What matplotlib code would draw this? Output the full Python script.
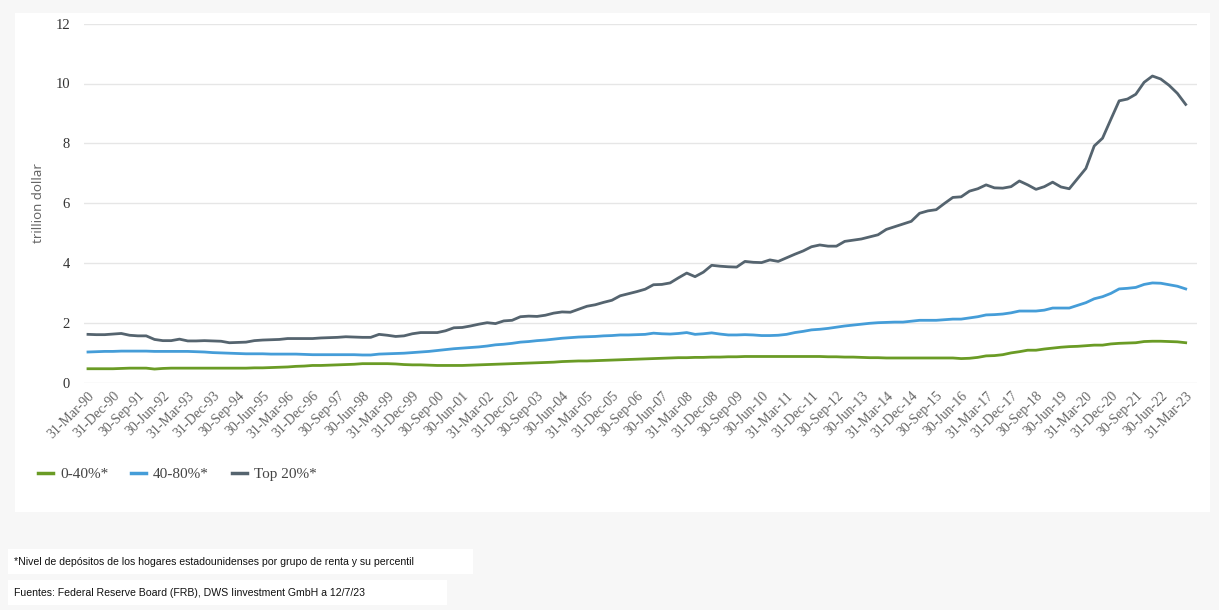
import matplotlib
matplotlib.use("Agg")
import matplotlib.pyplot as plt
from matplotlib.patches import Rectangle
from matplotlib.lines import Line2D

# ---------------- data ----------------
months = ["Mar", "Jun", "Sep", "Dec"]
days = {"Mar": "31", "Jun": "30", "Sep": "30", "Dec": "31"}
dates = []
for year in range(1990, 2024):
    for m in months:
        if year == 2023 and m != "Mar":
            continue
        dates.append(f"{days[m]}-{m}-{str(year)[2:]}")

bottom_40 = [
    0.46, 0.46, 0.46, 0.46, 0.47, 0.48, 0.48, 0.48, 0.45, 0.47,
    0.48, 0.48, 0.48, 0.48, 0.48, 0.48, 0.48, 0.48, 0.48, 0.48,
    0.49, 0.49, 0.50, 0.51, 0.52, 0.54, 0.55, 0.57, 0.57, 0.58,
    0.59, 0.60, 0.61, 0.63, 0.63, 0.63, 0.63, 0.62, 0.60, 0.59,
    0.59, 0.58, 0.57, 0.57, 0.57, 0.57, 0.58, 0.59, 0.60, 0.61,
    0.62, 0.63, 0.64, 0.65, 0.66, 0.67, 0.68, 0.70, 0.71, 0.72,
    0.72, 0.73, 0.74, 0.75, 0.76, 0.77, 0.78, 0.79, 0.80, 0.81,
    0.82, 0.83, 0.83, 0.84, 0.84, 0.85, 0.85, 0.86, 0.86, 0.87,
    0.87, 0.87, 0.87, 0.87, 0.87, 0.87, 0.87, 0.87, 0.87, 0.86,
    0.86, 0.85, 0.85, 0.84, 0.83, 0.83, 0.82, 0.82, 0.82, 0.82,
    0.82, 0.82, 0.82, 0.82, 0.82, 0.80, 0.81, 0.84, 0.89, 0.90,
    0.93, 0.99, 1.03, 1.08, 1.08, 1.12, 1.15, 1.18, 1.20, 1.21,
    1.23, 1.25, 1.25, 1.29, 1.31, 1.32, 1.33, 1.37, 1.38, 1.38,
    1.37, 1.36, 1.33,
]

middle_40 = [
    1.02, 1.03, 1.04, 1.04, 1.05, 1.05, 1.05, 1.05, 1.04, 1.04,
    1.04, 1.04, 1.04, 1.03, 1.02, 1.00, 0.99, 0.98, 0.97, 0.96,
    0.96, 0.96, 0.95, 0.95, 0.95, 0.95, 0.94, 0.93, 0.93, 0.93,
    0.93, 0.93, 0.93, 0.92, 0.92, 0.95, 0.96, 0.97, 0.98, 1.00,
    1.02, 1.04, 1.07, 1.10, 1.13, 1.15, 1.17, 1.19, 1.22, 1.26,
    1.28, 1.31, 1.35, 1.37, 1.40, 1.42, 1.45, 1.48, 1.50, 1.52,
    1.53, 1.54, 1.56, 1.57, 1.59, 1.59, 1.60, 1.61, 1.65, 1.63,
    1.62, 1.64, 1.67, 1.61, 1.63, 1.66, 1.62, 1.59, 1.59, 1.60,
    1.59, 1.57, 1.57, 1.58, 1.61, 1.67, 1.71, 1.76, 1.78, 1.81,
    1.85, 1.89, 1.92, 1.95, 1.98, 2.00, 2.01, 2.02, 2.02, 2.05,
    2.08, 2.08, 2.08, 2.10, 2.12, 2.12, 2.16, 2.20, 2.26, 2.27,
    2.29, 2.33, 2.39, 2.39, 2.39, 2.42, 2.49, 2.49, 2.49, 2.58,
    2.67, 2.80, 2.87, 2.98, 3.13, 3.15, 3.18, 3.28, 3.33, 3.32,
    3.27, 3.22, 3.13,
]

top_20 = [
    1.61, 1.60, 1.60, 1.62, 1.64, 1.58, 1.56, 1.56, 1.44, 1.40,
    1.40, 1.45, 1.39, 1.39, 1.40, 1.39, 1.38, 1.33, 1.34, 1.35,
    1.40, 1.42, 1.43, 1.44, 1.47, 1.47, 1.47, 1.47, 1.49, 1.50,
    1.51, 1.53, 1.52, 1.51, 1.51, 1.61, 1.58, 1.54, 1.56, 1.63,
    1.67, 1.67, 1.67, 1.73, 1.83, 1.84, 1.89, 1.95, 2.00, 1.97,
    2.06, 2.08, 2.20, 2.22, 2.21, 2.25, 2.32, 2.36, 2.35, 2.45,
    2.55, 2.60, 2.68, 2.75, 2.90, 2.97, 3.04, 3.12, 3.27, 3.28,
    3.33, 3.50, 3.66, 3.54, 3.69, 3.92, 3.89, 3.87, 3.86, 4.05,
    4.02, 4.01, 4.10, 4.05, 4.17, 4.29, 4.40, 4.54, 4.60, 4.56,
    4.56, 4.72, 4.76, 4.80, 4.87, 4.94, 5.12, 5.21, 5.30, 5.39,
    5.66, 5.74, 5.78, 5.99, 6.19, 6.21, 6.40, 6.48, 6.61, 6.51,
    6.50, 6.55, 6.74, 6.61, 6.46, 6.55, 6.70, 6.54, 6.48, 6.82,
    7.16, 7.91, 8.17, 8.80, 9.42, 9.48, 9.64, 10.04, 10.25, 10.15,
    9.94, 9.67, 9.30,
]

series_names = ["0-40%*", "40-80%*", "Top 20%*"]
series_colors = ["#6a9b25", "#459dd8", "#55646f"]
y_ticks = [0, 2, 4, 6, 8, 10, 12]
y_label = "trillion dollar"
footnote = "*Nivel de depósitos de los hogares estadounidenses por grupo de renta y su percentil"
source = "Fuentes: Federal Reserve Board (FRB), DWS Iinvestment GmbH a 12/7/23"

# ---------------- figure ----------------
W, H = 1219, 610
fig = plt.figure(figsize=(W / 100, H / 100), dpi=100, facecolor="#f7f7f7")

def px_rect(x0, y0, x1, y1, color="white"):
    r = Rectangle((x0 / W, 1 - y1 / H), (x1 - x0) / W, (y1 - y0) / H,
                  transform=fig.transFigure, facecolor=color, edgecolor="none")
    r.set_zorder(-10)
    fig.patches.append(r)

px_rect(15, 13, 1210, 512)
px_rect(8, 549, 473, 574)
px_rect(8, 580, 447, 605)

ax_left, ax_right = 84, 1197
ax_top, ax_bottom = 23.7, 382.5
ax = fig.add_axes([ax_left / W, 1 - ax_bottom / H, (ax_right - ax_left) / W, (ax_bottom - ax_top) / H])
ax.set_zorder(1)
ax.set_facecolor("white")

x = list(range(len(dates)))
for vals, name, col in zip([bottom_40, middle_40, top_20], series_names, series_colors):
    ax.plot(x, vals, color=col, lw=2.0, label=name, solid_joinstyle="round", zorder=3)

ax.set_xlim(-0.48, len(dates) - 1 + 1.36)
ax.set_ylim(0, 12)
ax.set_yticks(y_ticks)
ax.set_yticklabels([str(t) for t in y_ticks], family="Liberation Serif", fontsize=10.5, color="#333333")
ax.grid(axis="y", color="#e6e6e6", lw=1)
ax.set_axisbelow(True)
for s in ax.spines.values():
    s.set_visible(False)
ax.tick_params(axis="both", length=0)
ax.tick_params(axis="y", pad=10)

tick_pos = x[::3]
ax.set_xticks(tick_pos)
ax.set_xticklabels([dates[i] for i in tick_pos], rotation=45, ha="right",
                   rotation_mode="anchor", family="Liberation Serif", fontsize=10, color="#666666")
ax.tick_params(axis="x", pad=5)

ax.set_ylabel(y_label, family="Noto Sans", fontsize=9.5, color="#666666")
ax.yaxis.set_label_coords((45 - ax_left) / (ax_right - ax_left), 0.5)

handles = [Line2D([], [], color=c, lw=2.5) for c in series_colors]
leg = fig.legend(handles, series_names, loc="center left", bbox_to_anchor=(24 / W, 1 - 474 / H),
                 ncol=3, frameon=False, handlelength=1.0, handletextpad=0.45, columnspacing=1.5,
                 prop={"family": "Liberation Serif", "size": 11}, labelcolor="#444444")

fig.text(14 / W, 1 - 562 / H, footnote, family="Liberation Sans",
         fontsize=7.55, color="#111111", va="center", ha="left")
fig.text(14 / W, 1 - 593 / H, source, family="Liberation Sans",
         fontsize=7.55, color="#111111", va="center", ha="left")

fig.savefig("out.png", dpi=100, facecolor=fig.get_facecolor())
